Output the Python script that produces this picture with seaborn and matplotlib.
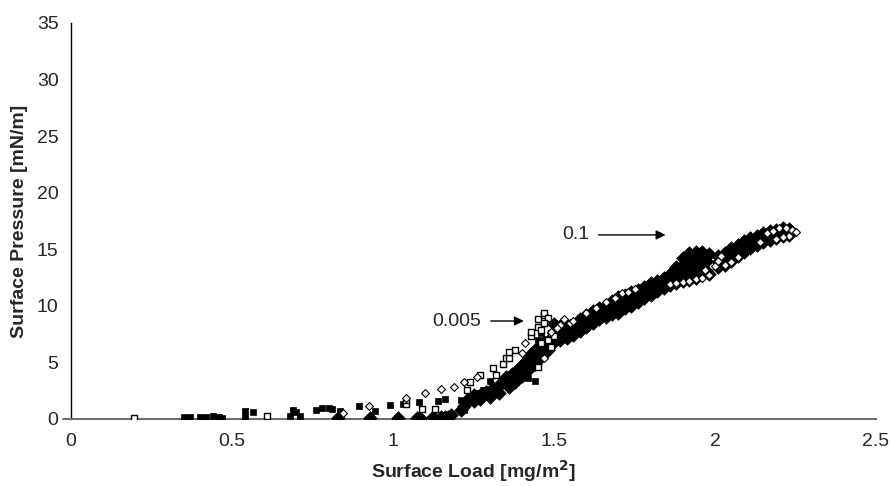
import numpy as np
import pandas as pd
import matplotlib
matplotlib.use("Agg")
import matplotlib.pyplot as plt
import seaborn as sns

# filled squares
fsq_x = [0.35, 0.37, 0.40, 0.42, 0.44, 0.46, 0.47, 0.54, 0.54, 0.565, 0.68, 0.69, 0.70, 0.71,
         0.76, 0.78, 0.80, 0.81, 0.835, 0.895, 0.944, 0.99, 1.03, 1.08, 1.14, 1.16, 1.21, 1.21,
         1.22, 1.24, 1.26, 1.28, 1.30, 1.33, 1.36, 1.37, 1.42, 1.44, 1.39, 1.43, 1.45, 1.46,
         1.48, 1.50, 1.52]
fsq_y = [0.2, 0.2, 0.2, 0.2, 0.3, 0.2, 0.1, 0.2, 0.7, 0.6, 0.3, 0.8, 0.6, 0.3,
         0.8, 1.0, 1.0, 0.9, 0.7, 1.15, 0.7, 1.2, 1.3, 1.5, 1.6, 1.8, 1.7, 1.0,
         0.8, 1.9, 2.3, 2.6, 3.4, 2.8, 2.8, 3.4, 3.6, 3.4, 4.6, 5.8, 7.0, 7.6,
         8.8, 8.5, 7.9]

# open squares
osq_x = [0.196, 0.61, 1.04, 1.09, 1.13, 1.04, 1.23, 1.24, 1.27, 1.32, 1.31, 1.34, 1.35, 1.36,
         1.38, 1.36, 1.45, 1.43, 1.43, 1.45, 1.45, 1.47, 1.47, 1.48, 1.46, 1.48, 1.49, 1.47,
         1.46, 1.49, 1.50]
osq_y = [0.1, 0.3, 1.3, 0.9, 0.9, 1.7, 2.6, 3.3, 3.9, 3.9, 4.5, 4.9, 5.4, 5.4,
         6.1, 5.9, 4.6, 7.3, 7.7, 8.1, 8.8, 9.2, 9.4, 8.9, 6.7, 7.0, 6.4, 8.5,
         7.9, 7.6, 7.3]

# open diamonds
odi_x = [0.845, 0.925, 1.04, 1.10, 1.15, 1.19, 1.22, 1.26, 1.40, 1.41, 1.47, 1.52, 1.55,
         1.53, 1.56, 1.60, 1.63, 1.66, 1.69, 1.71, 1.73, 1.75, 1.49, 1.51,
         1.86, 1.88, 1.90, 1.92, 1.94, 1.96, 1.98, 1.97, 1.99,
         2.00, 2.01, 2.02, 2.03, 2.05, 2.07,
         2.14, 2.16, 2.18, 2.20, 2.22, 2.24, 2.25, 2.23, 2.21, 2.19]
odi_y = [0.5, 1.15, 1.85, 2.3, 2.65, 2.8, 3.3, 3.7, 5.8, 6.7, 5.4, 8.3, 8.5,
         8.8, 8.7, 9.4, 9.8, 10.3, 10.7, 11.1, 11.2, 11.5, 7.7, 8.0,
         11.9, 12.0, 12.1, 12.2, 12.4, 12.5, 12.7, 13.2, 13.5,
         13.5, 14.0, 14.4, 13.6, 13.9, 14.3,
         15.6, 16.4, 16.6, 16.9, 16.9, 16.7, 16.5, 16.2, 16.1, 15.9]

# filled diamonds
fdi_x = [0.83, 0.93, 1.015, 1.075, 1.085, 1.125, 1.15, 1.16, 1.17, 1.18, 1.21, 1.22, 1.23,
         1.25, 1.27, 1.29, 1.31, 1.33, 1.34, 1.35, 1.37, 1.385, 1.40, 1.415, 1.43, 1.44, 1.455,
         1.47, 1.49,
         1.25, 1.27, 1.30, 1.33, 1.36, 1.38, 1.40, 1.42, 1.44, 1.46, 1.48,
         1.50, 1.50, 1.50, 1.52, 1.52, 1.52, 1.54, 1.54, 1.54, 1.56, 1.56, 1.56,
         1.58, 1.58, 1.58, 1.60, 1.60, 1.60, 1.62, 1.62, 1.62, 1.64, 1.64, 1.64,
         1.66, 1.66, 1.66, 1.68, 1.68, 1.68, 1.70, 1.70, 1.70, 1.72, 1.72, 1.72,
         1.74, 1.74, 1.74, 1.76, 1.76, 1.76, 1.78, 1.78, 1.78, 1.80, 1.80, 1.80,
         1.82, 1.82, 1.82, 1.84, 1.84, 1.84, 1.86, 1.86, 1.86, 1.88, 1.88, 1.88,
         1.90, 1.90, 1.90, 1.90, 1.92, 1.92, 1.92, 1.92, 1.94, 1.94, 1.94, 1.94,
         1.96, 1.96, 1.96, 1.96, 1.98, 1.98, 1.98,
         2.01, 2.01, 2.01, 2.03, 2.03, 2.03, 2.05, 2.05, 2.05, 2.07, 2.07, 2.07,
         2.09, 2.09, 2.09, 2.11, 2.11, 2.11, 2.13, 2.13, 2.13, 2.15, 2.15, 2.15,
         2.17, 2.17, 2.17, 2.19, 2.19, 2.19, 2.21, 2.21, 2.21, 2.23, 2.23, 2.23]
fdi_y = [0.05, 0.05, 0.1, 0.1, 0.1, 0.15, 0.15, 0.2, 0.15, 0.35, 0.8, 1.15, 1.7,
         2.1, 2.1, 2.4, 2.7, 3.0, 3.3, 3.7, 4.0, 4.3, 4.8, 5.2, 5.7, 6.1, 6.4,
         6.8, 7.2,
         1.6, 1.8, 1.9, 2.3, 2.8, 3.3, 3.8, 4.3, 4.9, 5.5, 6.1,
         6.8, 7.6, 8.4, 7.0, 7.6, 8.2, 7.2, 7.8, 8.3, 7.4, 7.9, 8.4,
         7.8, 8.3, 8.8, 8.1, 8.6, 9.2, 8.5, 9.0, 9.5, 8.8, 9.3, 9.8,
         9.0, 9.5, 10.0, 9.3, 9.8, 10.4, 9.4, 10.1, 10.8, 9.8, 10.4, 11.0,
         10.0, 10.6, 11.2, 10.3, 10.9, 11.4, 10.7, 11.2, 11.7, 11.0, 11.5, 12.0,
         11.3, 11.7, 12.2, 11.6, 12.0, 12.5, 11.8, 12.3, 12.8, 12.0, 12.7, 13.4,
         12.2, 12.9, 13.6, 14.2, 12.3, 13.1, 13.9, 14.7, 12.5, 13.3, 14.1, 14.8,
         12.7, 13.4, 14.1, 14.8, 12.8, 13.7, 14.6,
         13.4, 13.9, 14.4, 13.6, 14.1, 14.7, 14.0, 14.5, 15.1, 14.4, 14.9, 15.4,
         14.8, 15.2, 15.7, 15.1, 15.5, 16.0, 15.4, 15.8, 16.2, 15.6, 16.0, 16.4,
         15.8, 16.2, 16.6, 16.0, 16.4, 16.7, 16.2, 16.5, 16.9, 16.3, 16.6, 16.8]

x_ticks = [0, 0.5, 1, 1.5, 2, 2.5]
x_labels = ["0", "0.5", "1", "1.5", "2", "2.5"]
y_ticks = [0, 5, 10, 15, 20, 25, 30, 35]

sns.set_style("white")
plt.rcParams["font.family"] = ["Liberation Sans", "DejaVu Sans"]

fig = plt.figure(figsize=(8.9, 4.86), dpi=100)
ax = fig.add_axes([0.0798, 0.1379, 0.9045, 0.8148])

sns.scatterplot(x=fdi_x, y=fdi_y, marker="D", s=48, color="black", edgecolor="black",
                linewidth=0.5, ax=ax, zorder=3)
sns.scatterplot(x=fsq_x, y=fsq_y, marker="s", s=22, color="black", edgecolor="black",
                linewidth=0.5, ax=ax, zorder=3)
sns.scatterplot(x=osq_x, y=osq_y, marker="s", s=22, color="white", edgecolor="black",
                linewidth=1.0, ax=ax, zorder=4)
sns.scatterplot(x=odi_x, y=odi_y, marker="D", s=16, color="white", edgecolor="black",
                linewidth=0.8, ax=ax, zorder=4)

ax.set_xlim(0, 2.5)
ax.set_ylim(0, 35)
ax.set_xticks(x_ticks)
ax.set_xticklabels(x_labels)
ax.set_yticks(y_ticks)
ax.tick_params(axis="both", labelsize=14, length=7, width=1, color="black", direction="out")
ax.tick_params(axis="x", pad=3)
ax.tick_params(axis="y", pad=2)

for s in ["top", "right"]:
    ax.spines[s].set_visible(False)
ax.spines["left"].set_color("black")
ax.spines["left"].set_linewidth(1)
ax.spines["bottom"].set_color("#6e6e6e")
ax.spines["bottom"].set_linewidth(1.5)
# x axis line runs a little past the y axis on the left
ax.plot([-0.025, 0], [0, 0], color="#6e6e6e", lw=1.5, clip_on=False, zorder=2)

ax.set_xlabel("Surface Load [mg/m$^{\\mathbf{2}}$]", fontsize=14, fontweight="bold", labelpad=6)
ax.set_ylabel("Surface Pressure [mN/m]", fontsize=14, fontweight="bold", labelpad=6)

ax.annotate("", xy=(1.415, 8.66), xytext=(1.295, 8.66),
            arrowprops=dict(arrowstyle="-|>", color="black", lw=1, mutation_scale=14))
ax.text(1.275, 8.66, "0.005", ha="right", va="center", fontsize=14)
ax.annotate("", xy=(1.855, 16.27), xytext=(1.63, 16.27),
            arrowprops=dict(arrowstyle="-|>", color="black", lw=1, mutation_scale=14))
ax.text(1.61, 16.27, "0.1", ha="right", va="center", fontsize=14)

fig.savefig("out.png", dpi=100)
